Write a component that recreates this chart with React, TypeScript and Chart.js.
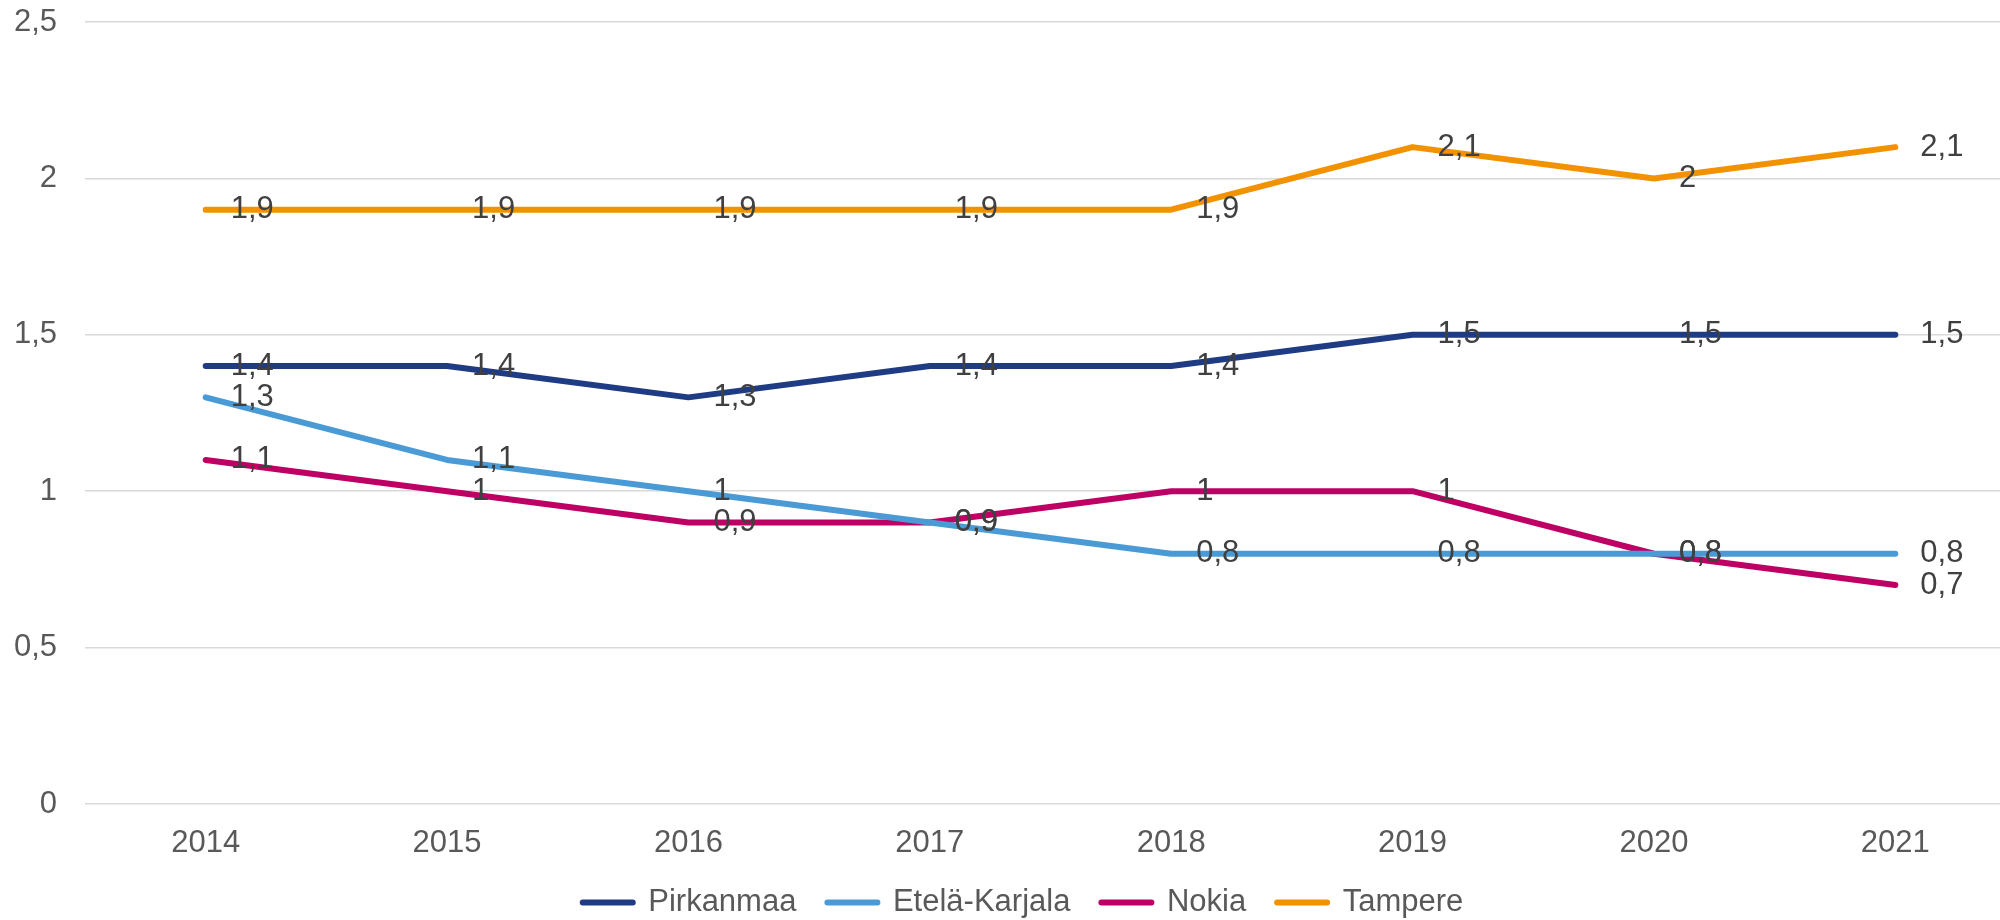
import React, { useEffect, useRef } from "react";
import { Chart, registerables } from "chart.js";

Chart.register(...registerables);

const years = ["2014", "2015", "2016", "2017", "2018", "2019", "2020", "2021"];
const pirkanmaa = [1.4, 1.4, 1.3, 1.4, 1.4, 1.5, 1.5, 1.5];
const etelaKarjala = [1.3, 1.1, 1.0, 0.9, 0.8, 0.8, 0.8, 0.8];
const nokia = [1.1, 1.0, 0.9, 0.9, 1.0, 1.0, 0.8, 0.7];
const tampere = [1.9, 1.9, 1.9, 1.9, 1.9, 2.1, 2.0, 2.1];

const seriesNames = ["Pirkanmaa", "Etelä-Karjala", "Nokia", "Tampere"];
const seriesColors = ["#1F3B84", "#4A9BD5", "#BE0064", "#F39200"];

const FONT = "'Liberation Sans', Arial, sans-serif";
const fmt = (v: number) => String(v).replace(".", ",");

const valueLabels = {
  id: "valueLabels",
  afterLayout(chart: any) {
    if (chart.legend) {
      chart.legend.left += 8;
      chart.legend.right += 8;
    }
  },
  afterDatasetsDraw(chart: any) {
    const ctx = chart.ctx;
    ctx.save();
    ctx.font = `31px ${FONT}`;
    ctx.fillStyle = "#404040";
    ctx.textAlign = "left";
    ctx.textBaseline = "middle";
    chart.data.datasets.forEach((ds: any, i: number) => {
      const meta = chart.getDatasetMeta(i);
      meta.data.forEach((pt: any, j: number) => {
        ctx.fillText(fmt(ds.data[j]), pt.x + 25, pt.y);
      });
    });
    ctx.restore();
  },
};

export default function App() {
  const ref = useRef<HTMLCanvasElement>(null);

  useEffect(() => {
    if (!ref.current) return;
    const allValues = [pirkanmaa, etelaKarjala, nokia, tampere];
    const chart = new Chart(ref.current, {
      type: "line",
      data: {
        labels: years,
        datasets: allValues.map((vals, i) => ({
          label: seriesNames[i],
          data: vals,
          borderColor: seriesColors[i],
          backgroundColor: seriesColors[i],
          borderWidth: 6,
          borderCapStyle: "round",
          borderJoinStyle: "round",
          pointRadius: 0,
          pointHoverRadius: 0,
          pointBorderWidth: 6,
          tension: 0,
          fill: false,
        })),
      },
      options: {
        animation: false,
        responsive: false,
        devicePixelRatio: 1,
        layout: { padding: { top: 22, left: 14, right: 0, bottom: 0 } },
        scales: {
          x: {
            offset: true,
            grid: { display: false, drawTicks: false },
            border: { display: false },
            ticks: {
              color: "#595959",
              font: { family: FONT, size: 31 },
              padding: 21,
              maxRotation: 0,
            },
            afterFit: (scale: any) => {
              scale.height = 52;
            },
          },
          y: {
            min: 0,
            max: 2.5,
            grid: { color: "#D9D9D9", lineWidth: 1.5, drawTicks: false },
            border: { display: false },
            ticks: {
              stepSize: 0.5,
              color: "#595959",
              font: { family: FONT, size: 31 },
              padding: 28,
              callback: (v: any) => fmt(Number(v)),
            },
            afterFit: (scale: any) => {
              scale.width = 71;
              scale.paddingTop = 0;
              scale.paddingBottom = 0;
            },
          },
        },
        plugins: {
          tooltip: { enabled: false },
          legend: {
            position: "bottom",
            labels: {
              usePointStyle: true,
              pointStyle: "line",
              pointStyleWidth: 50,
              color: "#595959",
              font: { family: FONT, size: 31 },
              padding: 31,
              generateLabels: (c: any) =>
                Chart.defaults.plugins.legend.labels
                  .generateLabels(c)
                  .map((l: any, i: number) => ({
                    ...l,
                    lineWidth: 6,
                    lineCap: "round",
                    strokeStyle: seriesColors[i],
                    fillStyle: seriesColors[i],
                  })),
            },
          },
        },
      },
      plugins: [valueLabels],
    } as any);
    return () => chart.destroy();
  }, []);

  return (
    <div
      style={{
        position: "absolute",
        left: 0,
        top: 0,
        width: 2000,
        height: 920,
        overflow: "hidden",
        background: "#ffffff",
      }}
    >
      <canvas ref={ref} width={2016} height={928} style={{ width: 2016, height: 928, display: "block" }} />
    </div>
  );
}
